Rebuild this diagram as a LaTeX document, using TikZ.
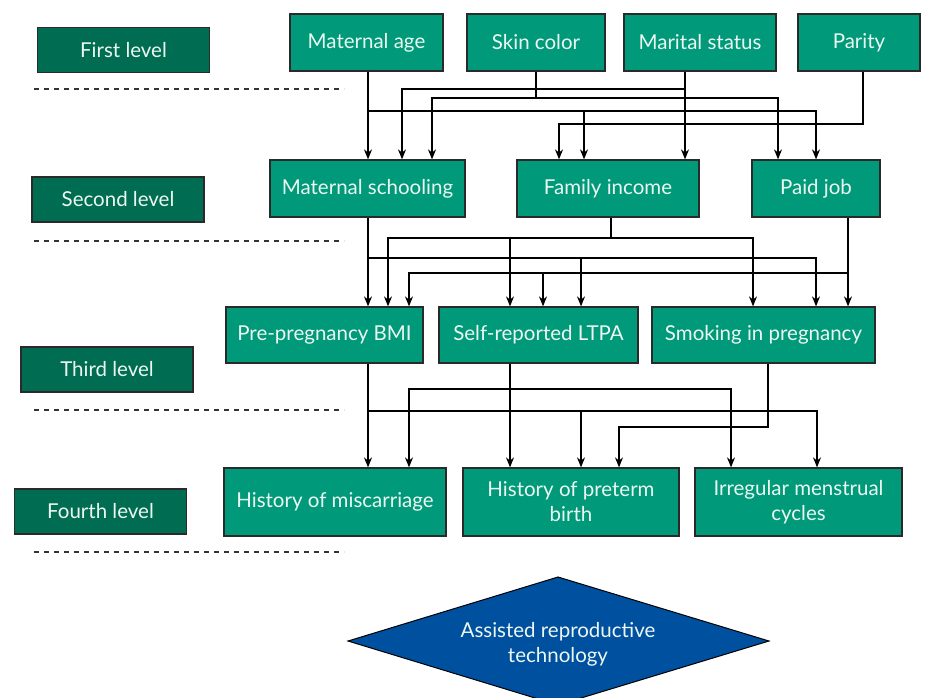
\documentclass[tikz,border=0pt]{standalone}
\usepackage{fontspec}
\setmainfont{Lato}
\usetikzlibrary{arrows.meta}
\definecolor{boxfill}{HTML}{009A7A}
\definecolor{lvlfill}{HTML}{006D52}
\definecolor{bordc}{HTML}{2A2A2A}
\definecolor{txtc}{HTML}{ECF7F1}
\definecolor{artfill}{HTML}{0050A0}
\tikzset{
  box/.style={draw=bordc, line width=1.3pt, fill=boxfill, text=txtc, inner sep=2pt,
    font=\fontsize{20.5}{25}\selectfont, align=center, anchor=center},
  lvl/.style={box, fill=lvlfill, minimum width=172pt, minimum height=45pt},
  ln/.style={draw=black, line width=1.2pt},
  arr/.style={ln, -{Stealth[length=10pt,width=8pt]}},
  sep/.style={draw=black!80, line width=1.2pt, dash pattern=on 5pt off 5pt}
}
\begin{document}
\begin{tikzpicture}[x=1pt,y=-1pt]
\useasboundingbox (0,0) rectangle (928,697);
% level labels
\node[lvl] (l1) at (123.5,50) {First level};
\node[lvl] (l2) at (118,199.5) {Second level};
\node[lvl] (l3) at (107,369.5) {Third level};
\node[lvl] (l4) at (100.5,511.5) {Fourth level};
% separators
\coordinate (s1a) at (34,89);  \coordinate (s1b) at (344,89);
\coordinate (s2a) at (34,241); \coordinate (s2b) at (344,241);
\coordinate (s3a) at (34,410); \coordinate (s3b) at (344,410);
\coordinate (s4a) at (34,552); \coordinate (s4b) at (344,552);
\draw[sep] (s1a) -- (s1b);
\draw[sep] (s2a) -- (s2b);
\draw[sep] (s3a) -- (s3b);
\draw[sep] (s4a) -- (s4b);
% first level
\node[box, minimum width=153pt, minimum height=57pt] (age) at (366.5,42.5) {Maternal age};
\node[box, minimum width=138pt, minimum height=57pt] (skin) at (536,42.5) {Skin color};
\node[box, minimum width=152pt, minimum height=57pt] (mar) at (700,42.5) {Marital status};
\node[box, minimum width=122pt, minimum height=57pt] (par) at (859,42.5) {Parity};
% second level
\node[box, minimum width=195pt, minimum height=57pt] (sch) at (367.5,188.5) {Maternal schooling};
\node[box, minimum width=182pt, minimum height=57pt] (fam) at (608,188.5) {Family income};
\node[box, minimum width=128pt, minimum height=57pt] (job) at (816,188.5) {Paid job};
% third level
\node[box, minimum width=197pt, minimum height=56pt] (bmi) at (324.5,335) {Pre-pregnancy BMI};
\node[box, minimum width=199pt, minimum height=56pt] (ltpa) at (538.5,335) {Self-reported LTPA};
\node[box, minimum width=223pt, minimum height=56pt] (smk) at (763.5,335) {Smoking in pregnancy};
% fourth level
\node[box, minimum width=222pt, minimum height=68pt] (mis) at (335,502) {History of miscarriage};
\node[box, minimum width=216pt, minimum height=68pt] (pre) at (571,502) {History of preterm\\birth};
\node[box, minimum width=207pt, minimum height=68pt] (irr) at (798.5,502) {Irregular menstrual\\cycles};
% outcome
\coordinate (dl) at (348,641); \coordinate (dt) at (558,577);
\coordinate (dr) at (769,641); \coordinate (db) at (558,705);
\fill[artfill, draw=black, line width=1pt] (dl) -- (dt) -- (dr) -- (db) -- cycle;
\node[text=txtc, font=\fontsize{20.5}{25}\selectfont, align=center] (art) at (558,644) {Assisted reproductive\\technology};
% first -> second
\draw[arr] (368,0 |- age.south) -- (368,0 |- sch.north);
\draw[arr] (368,111) -| (816,0 |- job.north);
\draw[arr] (584,111) -- (584,0 |- fam.north);
\draw[ln] (skin.south) -- (536,98);
\draw[arr] (536,98) -| (432,0 |- sch.north);
\draw[arr] (536,98) -| (778,0 |- job.north);
\draw[arr] (685,0 |- mar.south) -- (685,0 |- fam.north);
\draw[arr] (685,89) -| (402,0 |- sch.north);
\draw[arr] (863,0 |- par.south) |- (559,124) -- (559,0 |- fam.north);
% second -> third
\draw[arr] (368,0 |- sch.south) -- (368,0 |- bmi.north);
\draw[arr] (368,258) -| (816,0 |- smk.north);
\draw[arr] (581,258) -- (581,0 |- ltpa.north);
\draw[ln] (611,0 |- fam.south) -- (611,238);
\draw[arr] (611,238) -| (388,0 |- bmi.north);
\draw[arr] (611,238) -| (753,0 |- smk.north);
\draw[arr] (510,238) -- (510,0 |- ltpa.north);
\draw[arr] (848,0 |- job.south) -- (848,0 |- smk.north);
\draw[arr] (848,273) -| (409,0 |- bmi.north);
\draw[arr] (543,273) -- (543,0 |- ltpa.north);
% third -> fourth
\draw[arr] (368,0 |- bmi.south) -- (368,0 |- mis.north);
\draw[arr] (368,411) -| (817,0 |- irr.north);
\draw[arr] (581,411) -- (581,0 |- pre.north);
\draw[arr] (510,0 |- ltpa.south) -- (510,0 |- pre.north);
\draw[arr] (510,389) -| (409,0 |- mis.north);
\draw[arr] (510,389) -| (731,0 |- irr.north);
\draw[arr] (768,0 |- smk.south) |- (619,427) -- (619,0 |- pre.north);
\end{tikzpicture}
\end{document}
